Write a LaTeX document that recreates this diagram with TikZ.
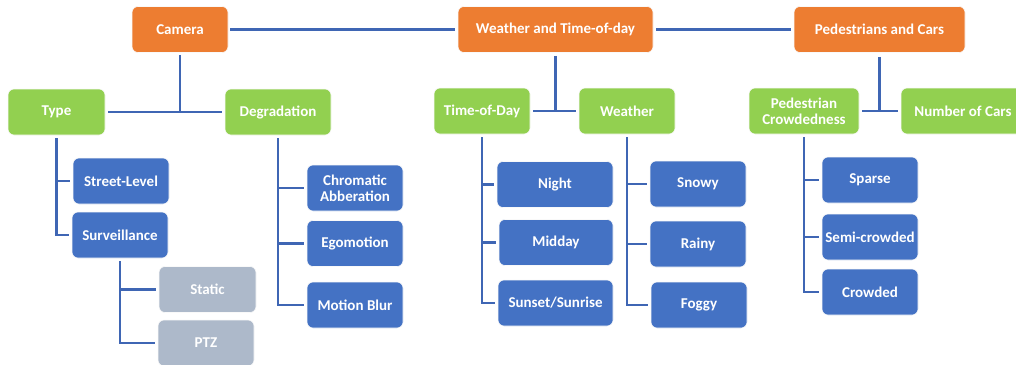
\documentclass[tikz,border=0pt]{standalone}
\usepackage{fontspec}
\setmainfont{Carlito}
\definecolor{orng}{HTML}{ED7D31}
\definecolor{grn}{HTML}{92D050}
\definecolor{blu}{HTML}{4472C4}
\definecolor{gry}{HTML}{ADB9CA}
\definecolor{lnc}{HTML}{3F66B4}
\begin{document}
\begin{tikzpicture}[x=1pt,y=-1pt,
  box/.style={rounded corners=6pt, draw=white!75!black!10, line width=0.6pt, text=white,
    font=\fontsize{15}{16}\selectfont\bfseries, align=center, inner sep=0pt,
    minimum height=46pt, minimum width=96pt},
  top/.style={box, fill=orng},
  mid/.style={box, fill=grn},
  leaf/.style={box, fill=blu},
  gleaf/.style={box, fill=gry},
  conn/.style={draw=lnc, line width=2.9pt},
  tree/.style={conn, shorten <=3pt, shorten >=3pt}]
\useasboundingbox (0,0) rectangle (1016,364);
% top level
\node[top, minimum width=96pt] (cam) at (180,29.5) {Camera};
\node[top, minimum width=195pt] (wtd) at (555.5,29.5) {Weather and Time-of-day};
\node[top, minimum width=171pt] (pac) at (879.5,29.5) {Pedestrians and Cars};
% second level
\node[mid, minimum width=97pt] (type) at (56.5,112) {Type};
\node[mid, minimum width=106pt] (deg) at (278,112) {Degradation};
\node[mid, minimum width=96pt] (tod) at (482,111) {Time-of-Day};
\node[mid, minimum width=96pt] (wea) at (627,111) {Weather};
\node[mid, minimum width=110pt] (pcr) at (804,111) {Pedestrian\\Crowdedness};
\node[mid, minimum width=124pt] (ncar) at (963,111) {Number of Cars};
% leaves
\node[leaf] (sl) at (121,181) {Street-Level};
\node[leaf] (surv) at (120,235) {Surveillance};
\node[gleaf, minimum width=97pt] (stat) at (207.5,289.5) {Static};
\node[gleaf] (ptz) at (206,343) {PTZ};
\node[leaf] (chab) at (355,188) {Chromatic\\Abberation};
\node[leaf] (ego) at (355,243.5) {Egomotion};
\node[leaf] (mb) at (355,305) {Motion Blur};
\node[leaf, minimum width=116pt] (night) at (555,184.5) {Night};
\node[leaf, minimum width=114pt] (midday) at (556,242.5) {Midday};
\node[leaf, minimum width=115pt] (sun) at (555.5,303) {Sunset/Sunrise};
\node[leaf] (snow) at (698,184) {Snowy};
\node[leaf] (rain) at (698,244) {Rainy};
\node[leaf] (fog) at (699,305) {Foggy};
\node[leaf] (sparse) at (870,180) {Sparse};
\node[leaf] (semi) at (870,237) {Semi-crowded};
\node[leaf] (crowd) at (870,292) {Crowded};
% top horizontal connectors
\draw[conn, shorten <=2pt, shorten >=3pt] (cam.east) -- (wtd.west);
\draw[conn, shorten <=3pt, shorten >=3pt] (wtd.east) -- (pac.west);
% parent to children pairs
\draw[conn, shorten <=3pt, shorten >=3pt] (type.east) -- (deg.west);
\draw[conn, shorten <=2pt] (cam.south) -- (cam.south |- type.east);
\draw[conn, shorten <=3pt, shorten >=3pt] (tod.east) -- (wea.west);
\draw[conn, shorten <=3pt] (wtd.south) -- (wtd.south |- tod.east);
\draw[conn, shorten <=3pt, shorten >=3pt] (pcr.east) -- (ncar.west);
\draw[conn, shorten <=4pt] (pac.south) -- (pac.south |- pcr.east);
% trees
\draw[tree] (type.south) |- (sl.west);
\draw[tree] (type.south) |- (surv.west);
\draw[tree] (surv.south) |- (stat.west);
\draw[tree] (surv.south) |- (ptz.west);
\draw[tree] (deg.south) |- (chab.west);
\draw[tree] (deg.south) |- (ego.west);
\draw[tree] (deg.south) |- (mb.west);
\draw[tree] (tod.south) |- (night.west);
\draw[tree] (tod.south) |- (midday.west);
\draw[tree] (tod.south) |- (sun.west);
\draw[tree] (wea.south) |- (snow.west);
\draw[tree] (wea.south) |- (rain.west);
\draw[tree] (wea.south) |- (fog.west);
\draw[tree] (pcr.south) |- (sparse.west);
\draw[tree] (pcr.south) |- (semi.west);
\draw[tree] (pcr.south) |- (crowd.west);
\end{tikzpicture}
\end{document}
